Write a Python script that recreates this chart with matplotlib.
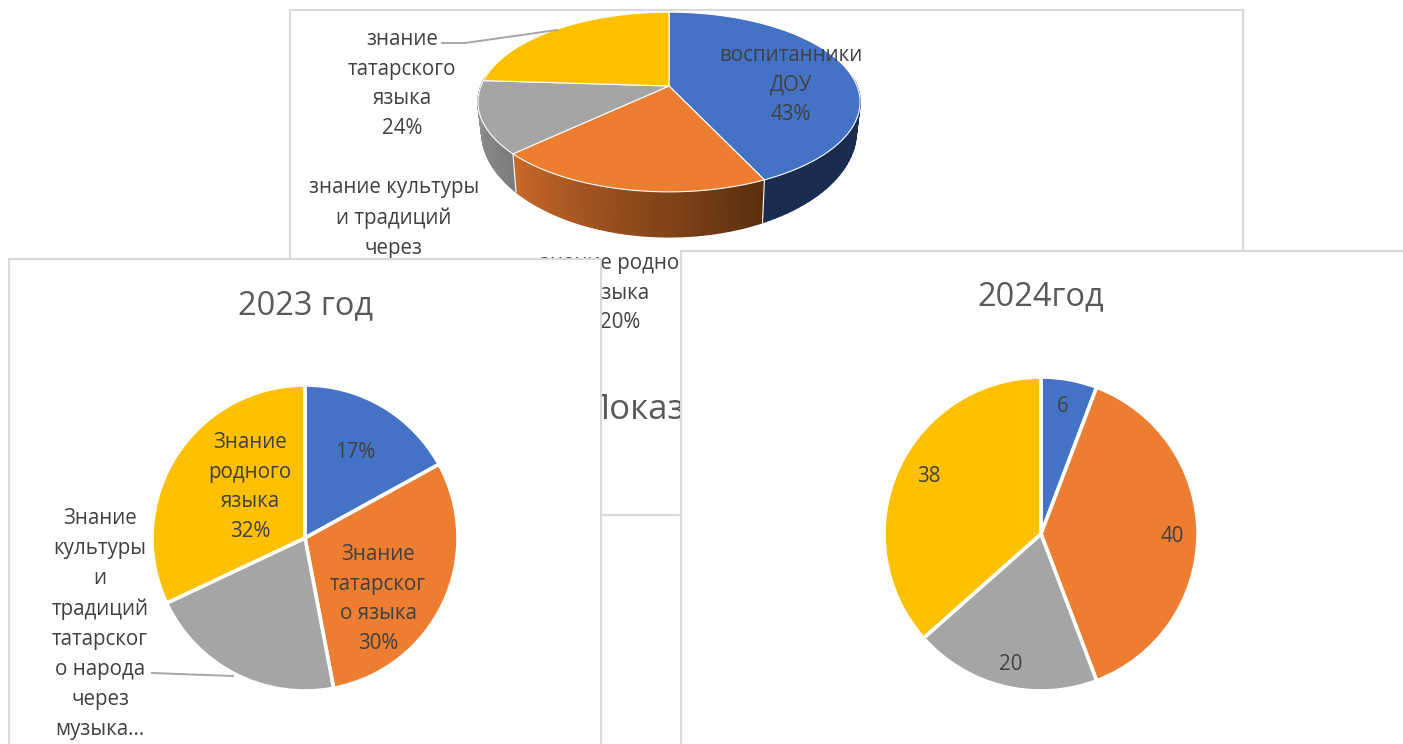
import numpy as np
import matplotlib
matplotlib.use('Agg')
import matplotlib.pyplot as plt

W = 1403
H = 744
plt.rcParams['font.family'] = ['Open Sans', 'DejaVu Sans']

colors = ['#4472C4', '#ED7D31', '#A5A5A5', '#FFC000']
text_col = '#404040'
title_col = '#595959'
frame_col = '#D9D9D9'

values_top = [43, 20, 13, 24]
values_2023 = [17, 30, 21, 32]
values_2024 = [6, 40, 20, 38]
title_2023 = '2023 год'
title_2024 = '2024год'
title_top = 'Показ'
labels_top = [
    ('воспитанники\nДОУ\n43%', 791, 83),
    ('знание\nтатарского\nязыка\n24%', 402, 82),
    ('знание культуры\nи традиций\nчерез', 394, 216),
    ('знание родного\nязыка\n20%', 620, 291),
]
labels_2023 = [
    ('17%', 355, 451),
    ('Знание\nродного\nязыка\n32%', 250, 485),
    ('Знание\nтатарског\nо языка\n30%', 378, 597),
    ('Знание\nкультуры\nи\nтрадиций\nтатарског\nо народа\nчерез\nмузыка...', 100, 622),
]
labels_2024 = [('6', 1063, 405), ('40', 1172, 534), ('20', 1011, 662), ('38', 929, 475)]

fig = plt.figure(figsize=(W / 100, H / 100), dpi=100, facecolor='white')


def panel(x0, y0, x1, y1, z):
    ax = fig.add_axes([x0 / W, 1 - y1 / H, (x1 - x0) / W, (y1 - y0) / H], zorder=z)
    ax.set_xticks([])
    ax.set_yticks([])
    for s in ax.spines.values():
        s.set_color(frame_col)
        s.set_linewidth(1.5)
    return ax


def put_labels(ax, labels, size=14.8):
    for txt, x, y in labels:
        ax.text(x, H - y - 2, txt, ha='center', va='center', fontsize=size,
                color=text_col, linespacing=1.56)


def flat_pie(ax, vals, cx, cy, r):
    ax.pie(vals, colors=colors, startangle=90, counterclock=False, center=(cx, H - cy),
           radius=r, frame=True, wedgeprops={'edgecolor': 'white', 'linewidth': 2.6})


def lims(ax, x0, y0, x1, y1):
    ax.set_xlim(x0, x1)
    ax.set_ylim(H - y1, H - y0)
    ax.set_xticks([])
    ax.set_yticks([])


# tilted pie: circle seen through a simple perspective, apex is not the ellipse centre
CX, CY, A, B, K = 669, 86, 188, 87, 0.178


def rim(t):
    u, v = np.sin(t), np.cos(t)
    w = 1 + K * v
    return CX + A * u / w, H - (CY - B * v / w), w


def low(x, y, w):
    # lower edge of the wall, a bit narrower and shallower to the sides
    return CX + 0.98 * (x - CX), y - 45 * (0.822 / w) ** 2.5


def shade(i, frac):
    if i == 0:
        return '#1A2C50'
    if i == 1:
        a = np.array([0x5A, 0x2E, 0x0E])
        b = np.array([0xC8, 0x68, 0x2A])
    else:
        a = np.array([0x7C, 0x7C, 0x7C])
        b = np.array([0x96, 0x96, 0x96])
    return tuple((a + (b - a) * frac) / 255)


ax_top = panel(290, 10, 1243, 515, 1)
lims(ax_top, 290, 10, 1243, 515)
edges = np.cumsum([0] + values_top) / sum(values_top) * 2 * np.pi
for i in range(len(values_top)):
    # side wall, only the front part of the rim
    tt = np.linspace(edges[i], edges[i + 1], 80)
    tt = tt[(tt > 1.45) & (tt < 2 * np.pi - 1.45)]
    for j in range(len(tt) - 1):
        xa, ya, wa = rim(tt[j])
        xb, yb, wb = rim(tt[j + 1])
        xa2, ya2 = low(xa, ya, wa)
        xb2, yb2 = low(xb, yb, wb)
        ax_top.fill([xa, xb, xb2, xa2], [ya, yb, yb2, ya2],
                    color=shade(i, j / max(len(tt) - 2, 1)), lw=1.0, zorder=2)
for t in edges[1:3]:
    xa, ya, wa = rim(t)
    xa2, ya2 = low(xa, ya, wa)
    ax_top.plot([xa, xa2], [ya, ya2], color='white', lw=0.8, zorder=2.5)
for i in range(len(values_top)):
    tt = np.linspace(edges[i], edges[i + 1], 120)
    x, y, _ = rim(tt)
    ax_top.fill(np.r_[CX, x], np.r_[H - CY, y], facecolor=colors[i], edgecolor='white',
                lw=0.8, zorder=3)
ax_top.plot([442, 465, 557], [H - 43, H - 43, H - 30], color='#A6A6A6', lw=1.4, zorder=4)
put_labels(ax_top, labels_top)
for t in ax_top.texts:
    t.set_zorder(5)
ax_top.text(585, H - 410, title_top, ha='left', va='center', fontsize=25, color=title_col)

ax_23 = panel(9, 259, 601, 770, 2)
flat_pie(ax_23, values_2023, 305, 538, 153)
lims(ax_23, 9, 259, 601, 770)
ax_23.plot([152, 233], [H - 673, H - 676], color='#A6A6A6', lw=1.4)
put_labels(ax_23, labels_2023)
ax_23.text(305, H - 306, title_2023, ha='center', va='center', fontsize=23.4, color=title_col)

ax_24 = panel(681, 251, 1430, 770, 3)
flat_pie(ax_24, values_2024, 1041, 534, 157)
lims(ax_24, 681, 251, 1430, 770)
put_labels(ax_24, labels_2024)
ax_24.text(1041, H - 297, title_2024, ha='center', va='center', fontsize=23.4, color=title_col)

fig.savefig('out.png', dpi=100)
